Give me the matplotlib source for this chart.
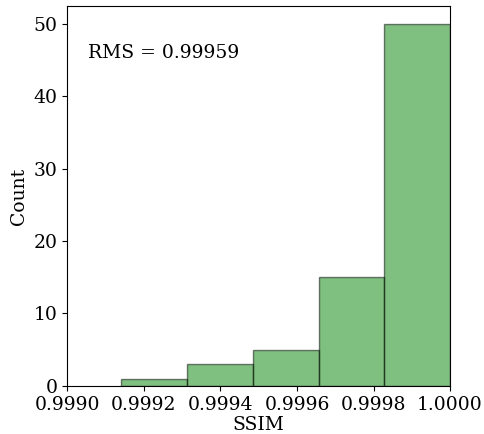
import numpy as np
import matplotlib
matplotlib.use('Agg')
import matplotlib.pyplot as plt

# Histogram bins and counts
bin_edges = [0.999141, 0.999313, 0.999485, 0.999657, 0.999828, 1.0000]
counts = [1, 3, 5, 15, 50]
rms_value = 0.99959

plt.rcParams['font.family'] = 'DejaVu Serif'
plt.rcParams['font.size'] = 13.5

fig, ax = plt.subplots(figsize=(4.84, 4.34), dpi=100)
centers = [(a + b) / 2 for a, b in zip(bin_edges[:-1], bin_edges[1:])]
ax.hist(centers, bins=bin_edges, weights=counts, color='green', alpha=0.5,
        edgecolor='black')

ax.set_xlim(0.9990, 1.0000)
ax.set_xticks([0.9990, 0.9992, 0.9994, 0.9996, 0.9998, 1.0000])
ax.set_xticklabels(['0.9990', '0.9992', '0.9994', '0.9996', '0.9998', '1.0000'])
ax.set_xlabel('SSIM', labelpad=2)
ax.set_ylabel('Count')
ax.text(0.055, 0.9, f'RMS = {rms_value:.5f}', transform=ax.transAxes, va='top')

fig.subplots_adjust(left=0.139, right=0.93, top=0.986, bottom=0.111)
fig.savefig('out.png')
